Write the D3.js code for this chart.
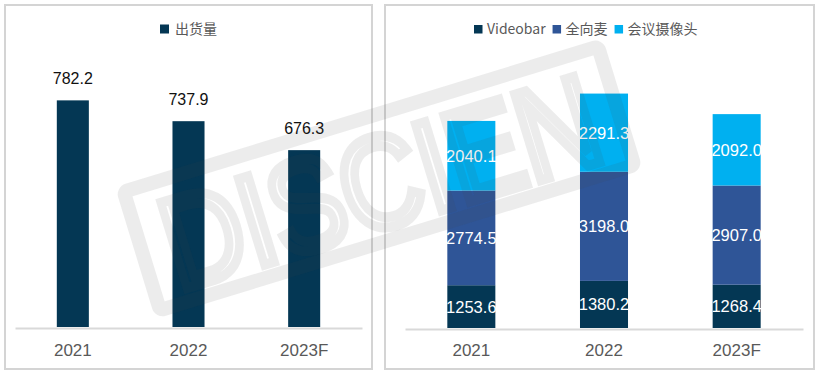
<!DOCTYPE html>
<html>
<head>
<meta charset="utf-8">
<script src="https://cdn.jsdelivr.net/npm/d3@7"></script>
<style>
  body { margin: 0; background: #fff; }
  svg { display: block; }
</style>
</head>
<body>
<div id="chart"></div>
<script>
// data
var years = ["2021", "2022", "2023F"];
var shipments = [782.2, 737.9, 676.3];

var seriesNames = ["Videobar", "全向麦", "会议摄像头"];
var videobar = [1253.6, 1380.2, 1268.4];
var omniMic = [2774.5, 3198.0, 2907.0];
var confCamera = [2040.1, 2291.3, 2092.0];

var colors = ["#043754", "#2f5597", "#00b0f0"];
var numFont = "'Liberation Sans', Arial, sans-serif";
var cjkFont = "'Noto Sans CJK SC', 'Liberation Sans', sans-serif";

var svg = d3.select("#chart")
  .append("svg")
  .attr("width", 816)
  .attr("height", 375);

// panel frames
svg.append("rect")
  .attr("x", 5).attr("y", 5).attr("width", 367).attr("height", 364)
  .attr("fill", "#fff").attr("stroke", "#d4d4d4").attr("stroke-width", 2);
svg.append("rect")
  .attr("x", 385).attr("y", 5).attr("width", 429).attr("height", 364)
  .attr("fill", "#fff").attr("stroke", "#d4d4d4").attr("stroke-width", 2);

// ---------- left chart: shipments ----------
var x1 = d3.scaleBand().domain(years).range([15, 362])
  .paddingInner(0.723).paddingOuter(0.3615);
var y1 = d3.scaleLinear().domain([300, 900]).range([327, 45]);

var left = svg.append("g");

left.selectAll("rect.bar")
  .data(shipments)
  .enter()
  .append("rect")
  .attr("class", "bar")
  .attr("x", (d, i) => x1(years[i]))
  .attr("y", d => y1(d))
  .attr("width", x1.bandwidth())
  .attr("height", d => y1.range()[0] - y1(d))
  .attr("fill", colors[0]);

left.selectAll("text.val")
  .data(shipments)
  .enter()
  .append("text")
  .attr("class", "val")
  .attr("x", (d, i) => x1(years[i]) + x1.bandwidth() / 2)
  .attr("y", d => y1(d) - 16)
  .attr("text-anchor", "middle")
  .style("font-family", numFont)
  .style("font-size", "16px")
  .style("fill", "#111")
  .text(d => d.toFixed(1));

var axis1 = left.append("g")
  .attr("transform", "translate(0,328)")
  .call(d3.axisBottom(x1).tickSize(0).tickPadding(16));
axis1.select(".domain").attr("stroke", "#d9d9d9").attr("stroke-width", 2);
axis1.selectAll("text")
  .style("font-family", numFont)
  .style("font-size", "17px")
  .style("fill", "#595959");

// legend
left.append("rect").attr("x", 160).attr("y", 24.5).attr("width", 9).attr("height", 9)
  .attr("fill", colors[0]);
left.append("text").attr("x", 175).attr("y", 29).attr("dy", "0.35em")
  .style("font-family", cjkFont).style("font-size", "14px").style("fill", "#595959")
  .text("出货量");

// ---------- right chart: stacked by product ----------
var table = years.map(function(yr, i) {
  return { year: yr, Videobar: videobar[i], "全向麦": omniMic[i], "会议摄像头": confCamera[i] };
});
var stacked = d3.stack().keys(seriesNames)(table);

var x2 = d3.scaleBand().domain(years).range([405, 803])
  .paddingInner(0.638).paddingOuter(0.319);
var y2 = d3.scaleLinear().domain([0, 8000]).range([328, 55]);

var right = svg.append("g");

var layers = right.selectAll("g.layer")
  .data(stacked)
  .enter()
  .append("g")
  .attr("class", "layer")
  .attr("fill", (d, i) => colors[i]);

layers.selectAll("rect")
  .data(d => d)
  .enter()
  .append("rect")
  .attr("x", d => x2(d.data.year))
  .attr("y", d => y2(d[1]))
  .attr("width", x2.bandwidth())
  .attr("height", d => y2(d[0]) - y2(d[1]));

var axis2 = right.append("g")
  .attr("transform", "translate(0,329)")
  .call(d3.axisBottom(x2).tickSize(0).tickPadding(15));
axis2.select(".domain").attr("stroke", "#d9d9d9").attr("stroke-width", 2);
axis2.selectAll("text")
  .style("font-family", numFont)
  .style("font-size", "17px")
  .style("fill", "#595959");

// legend, laid out left to right
var lx = 474;
seriesNames.forEach(function(name, i) {
  right.append("rect").attr("x", lx).attr("y", 25).attr("width", 8.5).attr("height", 8.5)
    .attr("fill", colors[i]);
  var t = right.append("text").attr("x", lx + 13).attr("y", 29).attr("dy", "0.35em")
    .style("font-family", cjkFont).style("font-size", "14px").style("fill", "#595959")
    .text(name);
  lx += 13 + t.node().getComputedTextLength() + 7;
});

// ---------- watermark ----------
var wm = svg.append("g")
  .attr("transform", "translate(115,187) rotate(-17)")
  .style("pointer-events", "none");
wm.append("rect")
  .attr("x", 7).attr("y", 7).attr("width", 496).attr("height", 124)
  .attr("rx", 4)
  .attr("fill", "none")
  .attr("stroke", "#404040").attr("stroke-opacity", 0.1).attr("stroke-width", 14);
wm.append("text")
  .attr("x", 30).attr("y", 118)
  .attr("textLength", 450)
  .attr("lengthAdjust", "spacingAndGlyphs")
  .style("font-family", "'Liberation Sans', Arial, sans-serif")
  .style("font-size", "130px")
  .style("fill", "none")
  .style("stroke", "#404040")
  .style("stroke-opacity", 0.1)
  .style("stroke-width", 10)
  .text("DISCIEN");

// value labels on the stacks (drawn last, on top)
layers.selectAll("text")
  .data(d => d)
  .enter()
  .append("text")
  .attr("x", d => x2(d.data.year) + x2.bandwidth() / 2)
  .attr("y", d => (y2(d[0]) + y2(d[1])) / 2)
  .attr("dy", "0.36em")
  .attr("text-anchor", "middle")
  .style("font-family", numFont)
  .style("font-size", "16.5px")
  .style("fill", "#fff")
  .text(d => (d[1] - d[0]).toFixed(1));
</script>
</body>
</html>
